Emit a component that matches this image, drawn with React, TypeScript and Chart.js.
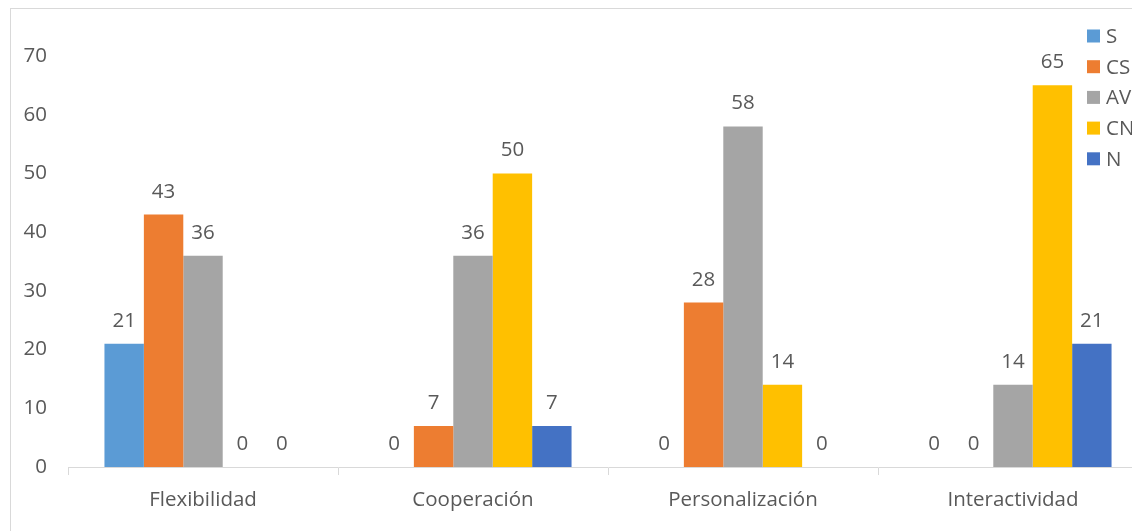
import React, { useEffect, useRef } from "react";
import { Chart, registerables } from "chart.js";

Chart.register(...registerables);

const categories = ["Flexibilidad", "Cooperación", "Personalización", "Interactividad"];
const seriesNames = ["S", "CS", "AV", "CN", "N"];
const seriesColors = ["#5B9BD5", "#ED7D31", "#A5A5A5", "#FFC000", "#4472C4"];
const valuesS = [21, 0, 0, 0];
const valuesCS = [43, 7, 28, 0];
const valuesAV = [36, 36, 58, 14];
const valuesCN = [0, 50, 14, 65];
const valuesN = [0, 7, 0, 21];
const yTicks = [0, 10, 20, 30, 40, 50, 60, 70];

const FONT = "'Open Sans', Lato, sans-serif";
const FSIZE = 20.5;
const TEXT = "#595959";

const dataLabels = {
  id: "dataLabels",
  afterDatasetsDraw(chart: any) {
    const ctx = chart.ctx;
    ctx.save();
    ctx.font = `${FSIZE}px ${FONT}`;
    ctx.fillStyle = TEXT;
    ctx.textAlign = "center";
    ctx.textBaseline = "alphabetic";
    chart.data.datasets.forEach((ds: any, i: number) => {
      const meta = chart.getDatasetMeta(i);
      meta.data.forEach((el: any, j: number) => {
        ctx.fillText(String(ds.data[j]), el.x, el.y - 17);
      });
    });
    ctx.restore();
  },
};

const sideLegend = {
  id: "sideLegend",
  afterDraw(chart: any) {
    const ctx = chart.ctx;
    const area = chart.chartArea;
    ctx.save();
    ctx.font = `${FSIZE}px ${FONT}`;
    ctx.textAlign = "left";
    ctx.textBaseline = "middle";
    const x0 = area.right - 61;
    const y0 = area.top - 20;
    chart.data.datasets.forEach((ds: any, i: number) => {
      const cy = y0 + i * 30.7;
      ctx.fillStyle = ds.backgroundColor;
      ctx.fillRect(x0, cy - 6.5, 13, 13);
      ctx.fillStyle = TEXT;
      ctx.fillText(ds.label, x0 + 19, cy + 1);
    });
    ctx.restore();
  },
};

export default function App() {
  const ref = useRef<HTMLCanvasElement | null>(null);
  useEffect(() => {
    if (!ref.current) return;
    const allValues = [valuesS, valuesCS, valuesAV, valuesCN, valuesN];
    const chart = new Chart(ref.current, {
      type: "bar",
      data: {
        labels: categories,
        datasets: seriesNames.map((name, i) => ({
          label: name,
          data: allValues[i],
          backgroundColor: seriesColors[i],
          borderWidth: 0,
          barPercentage: 1,
          categoryPercentage: 0.73,
        })),
      },
      options: {
        responsive: false,
        animation: false,
        layout: { padding: { top: 56, right: 12, bottom: 0, left: 0 } },
        plugins: {
          legend: { display: false },
          tooltip: { enabled: false },
        },
        scales: {
          x: {
            grid: {
              display: true,
              drawOnChartArea: false,
              drawTicks: true,
              tickLength: 8,
              color: "#d9d9d9",
              offset: true,
            },
            border: { display: true, color: "#d9d9d9", width: 1 },
            ticks: {
              color: TEXT,
              font: { family: FONT, size: FSIZE },
              padding: 13,
              maxRotation: 0,
              autoSkip: false,
            },
            afterFit: (s: any) => {
              s.height = 64;
            },
          },
          y: {
            min: 0,
            max: 70,
            grid: { display: false, drawTicks: false },
            border: { display: false },
            afterBuildTicks: (s: any) => {
              s.ticks = yTicks.map((v) => ({ value: v }));
            },
            ticks: {
              color: TEXT,
              font: { family: FONT, size: FSIZE },
              padding: 21,
            },
            afterFit: (s: any) => {
              s.width = 68;
            },
          },
        },
      },
      plugins: [dataLabels, sideLegend],
    });
    return () => chart.destroy();
  }, []);

  return (
    <div
      style={{
        position: "fixed",
        left: 0,
        top: 0,
        width: 1132,
        height: 531,
        overflow: "hidden",
        background: "#fff",
      }}
    >
      <div
        style={{
          position: "absolute",
          left: 10,
          top: 8,
          width: 1200,
          height: 600,
          border: "1px solid #d9d9d9",
          boxSizing: "border-box",
        }}
      />
      <canvas
        ref={ref}
        width={1160}
        height={531}
        style={{ position: "absolute", left: 0, top: 0, width: 1160, height: 531 }}
      />
    </div>
  );
}
